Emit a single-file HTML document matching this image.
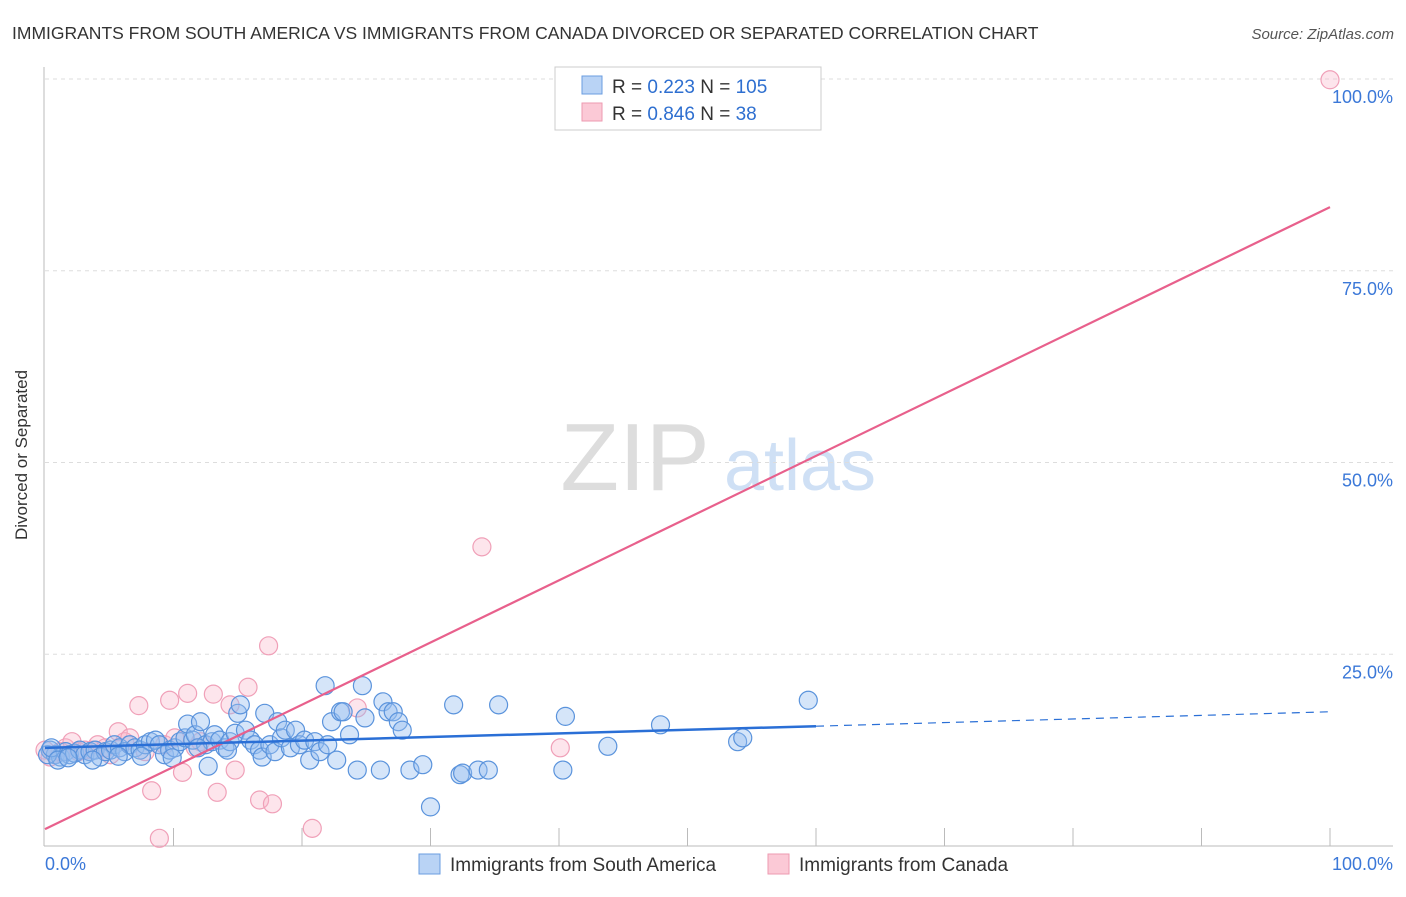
<!DOCTYPE html>
<html><head><meta charset="utf-8"><style>
body{margin:0;background:#fff;font-family:"Liberation Sans",sans-serif}
svg text{font-family:"Liberation Sans",sans-serif}
</style></head><body>
<svg id="c" width="1406" height="892">
<text x="12" y="39" font-size="17.5" fill="#333">IMMIGRANTS FROM SOUTH AMERICA VS IMMIGRANTS FROM CANADA DIVORCED OR SEPARATED CORRELATION CHART</text>
<text x="1394" y="39" font-size="15" fill="#555" text-anchor="end" font-style="italic">Source: ZipAtlas.com</text>
<text x="27" y="455" font-size="17" fill="#333" text-anchor="middle" transform="rotate(-90 27 455)">Divorced or Separated</text>
<g><text x="635" y="490" font-size="96" fill="#ddd" font-family="Liberation Serif" text-anchor="middle">ZIP</text><text x="800" y="490" font-size="72" fill="#cfe0f5" text-anchor="middle">atlas</text></g>
<g id="grid"></g><g id="marks"></g>
<g>
<rect x="555" y="67" width="266" height="63" fill="#fff" stroke="#ccc"/>
<rect x="582" y="76" width="20" height="18" fill="#b9d3f5" stroke="#6a9de0"/>
<rect x="582" y="103" width="20" height="18" fill="#fbc9d6" stroke="#ee9ab0"/>
<text x="612" y="93" font-size="19" fill="#333">R = <tspan fill="#2e6fd0">0.223</tspan>   N = <tspan fill="#2e6fd0">105</tspan></text>
<text x="612" y="120" font-size="19" fill="#333">R = <tspan fill="#2e6fd0">0.846</tspan>   N =    <tspan fill="#2e6fd0">38</tspan></text>
</g>
<g>
<rect x="419" y="854" width="21" height="20" fill="#b9d3f5" stroke="#6a9de0"/>
<text x="450" y="871" font-size="19" fill="#333">Immigrants from South America</text>
<rect x="768" y="854" width="21" height="20" fill="#fbc9d6" stroke="#ee9ab0"/>
<text x="799" y="871" font-size="19" fill="#333">Immigrants from Canada</text>
</g>
<text x="45" y="870" font-size="18" fill="#3b78d8">0.0%</text>
<text x="1393" y="870" font-size="18" fill="#3b78d8" text-anchor="end">100.0%</text>
</svg>
<script>
const yTicks=[25,50,75,100];
const blueX=[0.4,0.8,1.2,1.6,1.9,2.3,2.7,3.1,3.5,3.9,4.3,4.7,5.1,5.4,5.8,6.2,6.6,7.0,7.4,7.8,8.2,8.6,8.9,9.3,9.7,10.1,10.5,10.9,11.1,11.5,11.7,12.1,12.5,12.7,13.0,13.2,13.6,14.0,14.4,14.8,15.0,15.2,15.6,16.0,16.3,16.7,16.9,17.1,17.5,17.9,18.1,18.4,18.7,19.1,19.5,19.8,20.2,20.6,21.0,21.4,21.8,22.0,22.3,22.7,23.0,23.2,23.7,24.3,24.7,24.9,26.1,26.3,26.7,27.1,27.5,27.8,28.4,29.4,30.0,31.8,32.3,32.5,33.7,34.5,35.3,40.3,40.5,43.8,47.9,53.9,54.3,59.4,0.2,0.5,1.0,1.8,3.7,5.7,7.5,9.9,11.9,14.2];
const blueY=[12.5,11.9,11.6,12.3,11.9,12.1,12.5,11.9,12.3,12.5,11.6,12.3,12.5,13.2,12.8,12.3,13.2,12.8,12.5,13.2,13.6,13.8,13.2,11.9,12.5,12.8,13.6,14.1,15.9,13.8,14.5,16.2,13.2,10.4,13.6,14.5,13.8,12.8,13.6,14.7,17.3,18.4,15.1,13.8,13.2,12.5,11.6,17.3,13.2,12.3,16.2,14.1,15.1,12.8,15.1,13.2,13.8,11.2,13.6,12.3,20.9,13.2,16.2,11.2,17.5,17.5,14.5,9.9,20.9,16.7,9.9,18.8,17.5,17.5,16.2,15.1,9.9,10.6,5.1,18.4,9.3,9.5,9.9,9.9,18.4,9.9,16.9,13.0,15.8,13.6,14.1,19.0,11.9,12.8,11.2,11.5,11.2,11.7,11.7,11.5,12.8,12.5];
const pinkX=[0,0.4,0.8,1.2,1.6,2.1,2.6,3.1,3.7,4.1,4.7,5.1,5.7,6.2,6.6,7.3,7.8,8.3,8.9,9.3,9.7,10.1,10.7,11.1,11.7,12.1,13.1,13.4,14.4,14.8,15.8,16.7,17.4,17.7,20.8,24.3,34.0,40.1,100];
const pinkY=[12.5,11.6,11.9,12.3,12.8,13.6,12.3,12.5,12.5,13.2,12.8,11.9,14.9,13.6,14.1,18.3,12.3,7.2,1.0,13.2,19.0,14.1,9.6,19.9,12.8,13.6,19.8,7.0,18.4,9.9,20.7,6.0,26.1,5.5,2.3,18.0,39.0,12.8,99.9];
const pinkFit=[2.2,83.3];
const blueFit=[12.8,17.5];
const blueSolidEnd=60;
const NS='http://www.w3.org/2000/svg';
const X0=45,X1=1330,Y0=846,Y1=79;
const sx=v=>X0+(X1-X0)*v/100, sy=v=>Y0-(Y0-Y1)*v/100;
function mk(t,a,p){const e=document.createElementNS(NS,t);for(const k in a)e.setAttribute(k,a[k]);p.appendChild(e);return e;}
const g=document.getElementById('grid'), m=document.getElementById('marks');
yTicks.forEach(t=>{
 const l=mk('line',{x1:X0,x2:1393,y1:sy(t),y2:sy(t),stroke:'#ddd','stroke-dasharray':'4,4'},g);
 
 
 const tx=mk('text',{x:1393,y:sy(t)+24,'font-size':18,fill:'#3b78d8','text-anchor':'end'},g);
 tx.textContent=t.toFixed(1)+'%';
 
 
});
const ax=mk('line',{x1:44,x2:44,y1:67,y2:Y0,stroke:'#bbb'},g);


const bx=mk('line',{x1:44,x2:1393,y1:Y0,y2:Y0,stroke:'#bbb'},g);


for(let k=1;k<=10;k++){
 const t=mk('line',{x1:sx(k*10),x2:sx(k*10),y1:Y0,y2:Y0-18,stroke:'#bbb'},g);
 
 
}
pinkX.forEach((x,i)=>{
 const c=mk('circle',{cx:sx(x),cy:sy(pinkY[i]),r:9,fill:'rgba(248,180,200,0.35)',stroke:'#f0a0b8','stroke-width':1.2},m);
 
 
});
blueX.forEach((x,i)=>{
 const c=mk('circle',{cx:sx(x),cy:sy(blueY[i]),r:9,fill:'rgba(150,190,240,0.4)',stroke:'#5a93dc','stroke-width':1.2},m);
 
 
});
const bAt=x=>blueFit[0]+(blueFit[1]-blueFit[0])*x/100;
const pl=mk('line',{x1:sx(0),y1:sy(pinkFit[0]),x2:sx(100),y2:sy(pinkFit[1]),stroke:'#e8608c','stroke-width':2.2},m);


const bl=mk('line',{x1:sx(0),y1:sy(bAt(0)),x2:sx(blueSolidEnd),y2:sy(bAt(blueSolidEnd)),stroke:'#2a6fd6','stroke-width':2.5},m);


const bd=mk('line',{x1:sx(blueSolidEnd),y1:sy(bAt(blueSolidEnd)),x2:sx(100),y2:sy(bAt(100)),stroke:'#2a6fd6','stroke-width':1.2,'stroke-dasharray':'8,6'},m);


</script>
</body></html>
